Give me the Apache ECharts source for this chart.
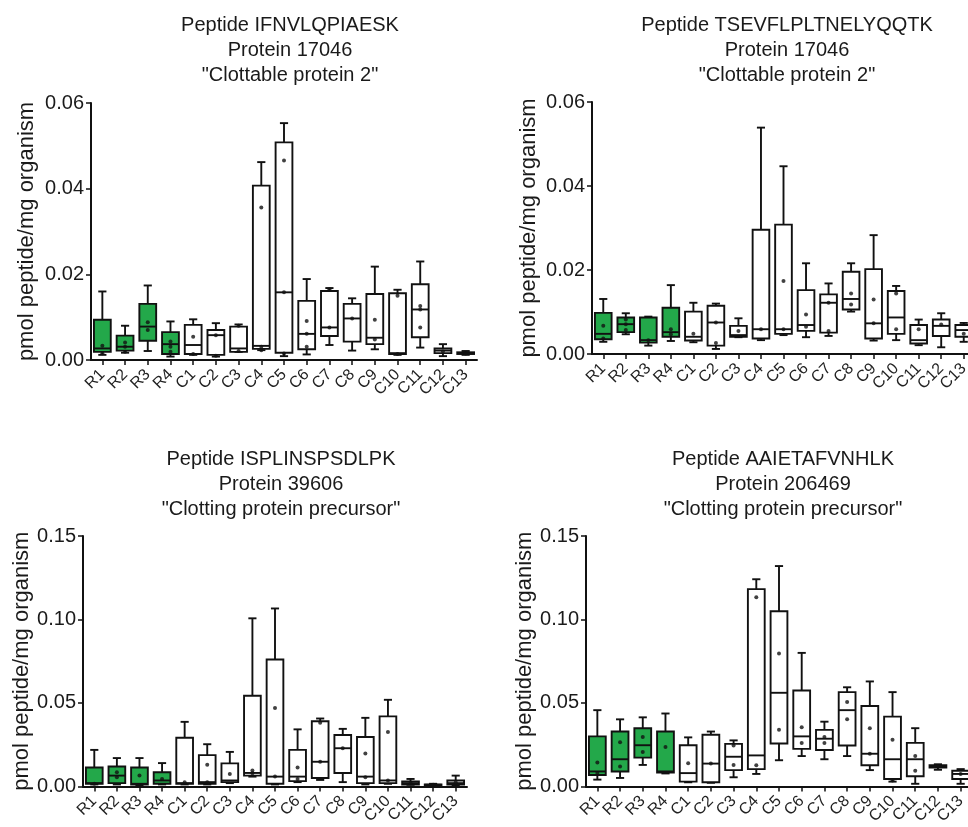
<!DOCTYPE html>
<html>
<head>
<meta charset="utf-8">
<script src="https://cdn.jsdelivr.net/npm/echarts@6/dist/echarts.min.js"></script>
<style>
html,body{margin:0;padding:0;background:#fff;overflow:hidden;width:968px;height:827px;}
#chart{width:1000px;height:827px;}
</style>
</head>
<body>
<div id="chart"></div>
<script>
const categories = ['R1','R2','R3','R4','C1','C2','C3','C4','C5','C6','C7','C8','C9','C10','C11','C12','C13'];
const yTicks1 = [0, 0.06, 0.02];
const yTicks2 = [0, 0.15, 0.05];

// Panel 1: Peptide IFNVLQPIAESK
const p1Min = [0.0012,0.0017,0.0021,0.0008,0.0012,0.0008,0.0019,0.0023,0.0009,0.0013,0.0035,0.0022,0.0025,0.0012,0.0029,0.0009,0.0012];
const p1Q1  = [0.0019,0.0022,0.0045,0.0014,0.0014,0.0012,0.0019,0.0026,0.0017,0.0025,0.0056,0.0043,0.0037,0.0014,0.0053,0.0016,0.0014];
const p1Med = [0.0027,0.0031,0.0078,0.0037,0.0035,0.0058,0.0027,0.0033,0.0158,0.0061,0.0076,0.0097,0.0052,0.0016,0.0118,0.0022,0.0016];
const p1Q3  = [0.0094,0.0057,0.0131,0.0065,0.0082,0.0070,0.0078,0.0407,0.0508,0.0138,0.0161,0.0131,0.0154,0.0156,0.0177,0.0027,0.0018];
const p1Max = [0.0160,0.0080,0.0174,0.0090,0.0095,0.0086,0.0083,0.0462,0.0553,0.0189,0.0168,0.0144,0.0218,0.0164,0.0230,0.0037,0.0021];
const p1Pts = [[0.0033,0.0016],[0.0041,0.0031,0.0019],[0.0088,0.0070],[0.0043,0.0031,0.0019],[0.0054,0.0014],[0.0058,0.0010],[0.0080,0.0021],[0.0356,0.0031,0.0023],[0.0466,0.0158,0.0015],[0.0091,0.0061,0.0031],[0.0165,0.0076],[0.0097],[0.0094,0.0048],[0.0150,0.0014],[0.0126,0.0118,0.0076],[0.0020],[0.0015]];

// Panel 2: Peptide TSEVFLPLTNELYQQTK
const p2Min = [0.0029,0.0047,0.0020,0.0031,0.0028,0.0012,0.0040,0.0033,0.0045,0.0040,0.0043,0.0101,0.0032,0.0033,0.0021,0.0016,0.0029];
const p2Q1  = [0.0035,0.0052,0.0027,0.0041,0.0032,0.0020,0.0041,0.0037,0.0048,0.0055,0.0051,0.0106,0.0037,0.0048,0.0025,0.0043,0.0041];
const p2Med = [0.0048,0.0071,0.0033,0.0052,0.0041,0.0075,0.0045,0.0059,0.0059,0.0069,0.0122,0.0131,0.0073,0.0087,0.0033,0.0067,0.0057];
const p2Q3  = [0.0098,0.0087,0.0087,0.0110,0.0101,0.0115,0.0067,0.0296,0.0308,0.0152,0.0142,0.0196,0.0202,0.0150,0.0069,0.0082,0.0069];
const p2Max = [0.0131,0.0097,0.0089,0.0164,0.0122,0.0120,0.0085,0.0539,0.0447,0.0216,0.0168,0.0216,0.0283,0.0162,0.0082,0.0097,0.0074];
const p2Pts = [[0.0067,0.0037],[0.0082,0.0071,0.0057],[0.0033],[0.0059,0.0047],[0.0048],[0.0075,0.0026],[0.0055],[0.0059],[0.0174,0.0059],[0.0094,0.0065],[0.0122,0.0055],[0.0144,0.0118],[0.0130,0.0073],[0.0144,0.0059],[0.0059],[0.0070],[0.0048]];

// Panel 3: Peptide ISPLINSPSDLPK
const p3Min = [0.0012,0.0012,0.0006,0.0012,0.0012,0.0012,0.0020,0.0059,0.0012,0.0026,0.0039,0.0026,0.0012,0.0016,0.0010,0.0006,0.0006];
const p3Q1  = [0.0016,0.0020,0.0012,0.0016,0.0016,0.0016,0.0026,0.0065,0.0016,0.0032,0.0051,0.0081,0.0020,0.0020,0.0012,0.0008,0.0012];
const p3Med = [0.0020,0.0065,0.0016,0.0036,0.0020,0.0026,0.0036,0.0081,0.0059,0.0059,0.0148,0.0229,0.0059,0.0036,0.0020,0.0010,0.0020];
const p3Q3  = [0.0114,0.0120,0.0114,0.0085,0.0292,0.0188,0.0138,0.0543,0.0760,0.0219,0.0391,0.0308,0.0296,0.0420,0.0030,0.0012,0.0036];
const p3Max = [0.0219,0.0170,0.0170,0.0140,0.0387,0.0253,0.0207,0.1007,0.1066,0.0342,0.0407,0.0345,0.0411,0.0519,0.0045,0.0016,0.0065];
const p3Pts = [[0.0016],[0.0085,0.0055],[0.0065],[0.0045],[0.0026],[0.0130,0.0026],[0.0075],[0.0095,0.0079],[0.0470,0.0059],[0.0114,0.0045],[0.0381,0.0148],[0.0229],[0.0197,0.0055],[0.0326,0.0036],[0.0020],[0.0010],[0.0026]];

// Panel 4: Peptide AAIETAFVNHLK
const p4Min = [0.0041,0.0051,0.0129,0.0078,0.0025,0.0022,0.0055,0.0075,0.0157,0.0182,0.0163,0.0182,0.0098,0.0029,0.0016,0.0100,0.0016];
const p4Q1  = [0.0069,0.0090,0.0173,0.0084,0.0029,0.0025,0.0098,0.0104,0.0257,0.0225,0.0218,0.0245,0.0127,0.0045,0.0061,0.0114,0.0045];
const p4Med = [0.0090,0.0163,0.0247,0.0090,0.0080,0.0137,0.0178,0.0186,0.0561,0.0300,0.0286,0.0457,0.0196,0.0163,0.0163,0.0120,0.0075];
const p4Q3  = [0.0300,0.0329,0.0349,0.0329,0.0247,0.0310,0.0255,0.1182,0.1049,0.0575,0.0339,0.0565,0.0482,0.0418,0.0261,0.0127,0.0094];
const p4Max = [0.0457,0.0402,0.0414,0.0437,0.0294,0.0329,0.0276,0.1241,0.1320,0.0800,0.0388,0.0594,0.0629,0.0565,0.0349,0.0133,0.0104];
const p4Pts = [[0.0143,0.0080],[0.0265,0.0120],[0.0296,0.0206],[0.0237],[0.0139],[0.0137],[0.0245,0.0129],[0.1133,0.0127],[0.0796,0.0339],[0.0355,0.0261],[0.0296,0.0261],[0.0506,0.0402],[0.0349,0.0196],[0.0280,0.0035],[0.0182,0.0094],[0.0120],[0.0075]];

const titles = [
  'Peptide IFNVLQPIAESK\nProtein 17046\n"Clottable protein 2"',
  'Peptide TSEVFLPLTNELYQQTK\nProtein 17046\n"Clottable protein 2"',
  'Peptide ISPLINSPSDLPK\nProtein 39606\n"Clotting protein precursor"',
  'Peptide AAIETAFVNHLK\nProtein 206469\n"Clotting protein precursor"'
];
const yName = 'pmol peptide/mg organism';

const FONT = '"Liberation Sans", Arial, sans-serif';
const GREEN = '#23a84a';

const panels = [
  {min:p1Min,q1:p1Q1,med:p1Med,q3:p1Q3,max:p1Max,pts:p1Pts,ticks:yTicks1},
  {min:p2Min,q1:p2Q1,med:p2Med,q3:p2Q3,max:p2Max,pts:p2Pts,ticks:yTicks1},
  {min:p3Min,q1:p3Q1,med:p3Med,q3:p3Q3,max:p3Max,pts:p3Pts,ticks:yTicks2},
  {min:p4Min,q1:p4Q1,med:p4Med,q3:p4Q3,max:p4Max,pts:p4Pts,ticks:yTicks2}
];

const layout = [
  {grid:{left:91, top:103, width:386, height:257}, title:{left:285, top:8}, nameGap:53},
  {grid:{left:592, top:102, width:383, height:252}, title:{left:782, top:8}, nameGap:52},
  {grid:{left:83, top:536, width:384, height:253}, title:{left:276, top:442}, nameGap:46},
  {grid:{left:586, top:536, width:386, height:255}, title:{left:778, top:442}, nameGap:46}
];

function renderBox(params, api) {
  const idx = api.value(0);
  const vMin = api.value(1), vQ1 = api.value(2), vMed = api.value(3), vQ3 = api.value(4), vMax = api.value(5);
  const band = api.size([1, 0])[0];
  const bw = band * 0.74;
  const cw = band * 0.36;
  const pMin = api.coord([idx, vMin]);
  const pQ1 = api.coord([idx, vQ1]);
  const pMed = api.coord([idx, vMed]);
  const pQ3 = api.coord([idx, vQ3]);
  const pMax = api.coord([idx, vMax]);
  const x = pMed[0];
  const lw = 1.9;
  const stroke = {stroke:'#111', lineWidth:lw};
  return {
    type:'group',
    children:[
      {type:'line', shape:{x1:x, y1:pQ3[1], x2:x, y2:pMax[1]}, style:stroke},
      {type:'line', shape:{x1:x-cw/2, y1:pMax[1], x2:x+cw/2, y2:pMax[1]}, style:stroke},
      {type:'line', shape:{x1:x, y1:pQ1[1], x2:x, y2:pMin[1]}, style:stroke},
      {type:'line', shape:{x1:x-cw/2, y1:pMin[1], x2:x+cw/2, y2:pMin[1]}, style:stroke},
      {type:'rect', shape:{x:x-bw/2, y:pQ3[1], width:bw, height:Math.max(pQ1[1]-pQ3[1], 1)},
        style:{fill: idx < 4 ? GREEN : '#fff', stroke:'#111', lineWidth:lw}},
      {type:'line', shape:{x1:x-bw/2, y1:pMed[1], x2:x+bw/2, y2:pMed[1]}, style:stroke}
    ]
  };
}

const option = {
  animation:false,
  backgroundColor:'#fff',
  title: layout.map((l,i)=>({
    text: titles[i], left: l.title.left, top: l.title.top, textAlign:'center',
    textStyle:{fontFamily:FONT, fontSize:20, fontWeight:'normal', color:'#1a1a1a', lineHeight:25}
  })),
  grid: layout.map(l=>Object.assign({containLabel:false}, l.grid)),
  xAxis: panels.map((p,i)=>({
    type:'category', gridIndex:i, data:categories, boundaryGap:true,
    axisLine:{show:true, lineStyle:{color:'#111', width:2}},
    axisTick:{show:true, alignWithLabel:true, length:5, lineStyle:{color:'#111', width:1.5}},
    axisLabel:{rotate:45, fontSize:16, fontFamily:FONT, color:'#222', margin:12, interval:0}
  })),
  yAxis: panels.map((p,i)=>({
    type:'value', gridIndex:i, min:p.ticks[0], max:p.ticks[1], interval:p.ticks[2],
    name:yName, nameLocation:'middle', nameGap:layout[i].nameGap, nameRotate:90,
    nameTextStyle:{fontSize:22, fontFamily:FONT, color:'#1a1a1a'},
    axisLine:{show:true, lineStyle:{color:'#111', width:2}},
    axisTick:{show:true, length:5, lineStyle:{color:'#111', width:1.5}},
    splitLine:{show:false},
    axisLabel:{fontSize:20, fontFamily:FONT, color:'#1a1a1a', margin:7, formatter:v=>v.toFixed(2)}
  })),
  series: []
};

panels.forEach((p,i)=>{
  option.series.push({
    type:'custom', xAxisIndex:i, yAxisIndex:i,
    renderItem: renderBox,
    encode:{x:0, y:[1,2,3,4,5]},
    data: categories.map((c,k)=>[k, p.min[k], p.q1[k], p.med[k], p.q3[k], p.max[k]]),
    z:2
  });
  const sd = [];
  p.pts.forEach((arr,k)=>arr.forEach(v=>sd.push([k, v])));
  option.series.push({
    type:'scatter', xAxisIndex:i, yAxisIndex:i, data:sd,
    symbol:'circle', symbolSize:4, itemStyle:{color:'#111'}, z:5, silent:true
  });
});

const chart = echarts.init(document.getElementById('chart'), null, {renderer:'canvas'});
chart.setOption(option);
</script>
</body>
</html>
